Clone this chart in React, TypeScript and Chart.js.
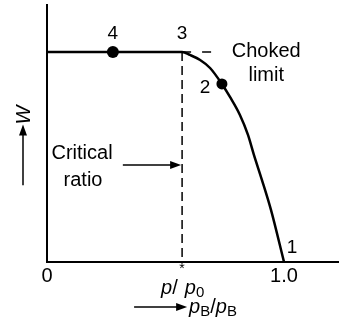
import { useEffect, useRef } from "react";
import { Chart, registerables } from "chart.js";

Chart.register(...registerables);

// Back-pressure ratio pB/p0 against mass flow rate W (normalised to the choked value)
const pressureRatio = [0, 0.57, 0.603, 0.646, 0.688, 0.738, 0.772, 0.814, 0.848, 0.873, 0.907, 0.945, 1.0];
const massFlow = [1, 1, 0.986, 0.962, 0.924, 0.848, 0.786, 0.7, 0.605, 0.51, 0.39, 0.248, 0];

const criticalRatio = 0.57;
const chokedFlow = 1;
const chokedGuideEnd = 0.698;

// Numbered states along the curve
const stateLabels = ["1", "2", "3", "4"];
const stateRatio = [1.0, 0.738, 0.57, 0.278];
const stateFlow = [0, 0.848, 1, 1];
const stateDotRadius = [0, 5.5, 0, 6];
const stateLabelDx = [8, -17, 0, 0];
const stateLabelDy = [-14, 4, -18, -18];

const xTickValues = [0, criticalRatio, 1.0];
const xTickLabels = ["0", "*", "1.0"];

const X_MAX = 1.232;
const Y_MAX = 1.224;
const FONT = '"Liberation Sans", Arial, Helvetica, sans-serif';

function arrowHead(ctx: CanvasRenderingContext2D, x: number, y: number, dir: "right" | "up") {
  ctx.beginPath();
  if (dir === "right") {
    ctx.moveTo(x, y);
    ctx.lineTo(x - 11, y - 4);
    ctx.lineTo(x - 11, y + 4);
  } else {
    ctx.moveTo(x, y);
    ctx.lineTo(x - 4, y + 11);
    ctx.lineTo(x + 4, y + 11);
  }
  ctx.closePath();
  ctx.fill();
}

type Part = { t: string; italic?: boolean; sub?: boolean; gap?: number };

// Draws text pieces left to right with optional italics / subscripts
function drawSubText(ctx: CanvasRenderingContext2D, parts: Part[], x: number, y: number) {
  let cx = x;
  for (const p of parts) {
    cx += p.gap || 0;
    const size = p.sub ? 15 : 20;
    ctx.font = `${p.italic ? "italic " : ""}${size}px ${FONT}`;
    ctx.fillText(p.t, cx, p.sub ? y + 5 : y);
    cx += ctx.measureText(p.t).width;
  }
  return cx;
}

const annotations = {
  id: "nozzleAnnotations",
  afterDraw(chart: any) {
    const { ctx } = chart;
    const xs = chart.scales.x;
    const ys = chart.scales.y;
    const bottom = chart.chartArea.bottom;
    ctx.save();
    ctx.fillStyle = "#000";
    ctx.strokeStyle = "#000";
    ctx.textAlign = "center";
    ctx.textBaseline = "middle";

    // state numbers
    ctx.font = `19px ${FONT}`;
    stateLabels.forEach((lab, i) => {
      const px = xs.getPixelForValue(stateRatio[i]) + stateLabelDx[i];
      const py = ys.getPixelForValue(stateFlow[i]) + stateLabelDy[i];
      ctx.fillText(lab, px, py);
    });

    // x tick labels
    xTickValues.forEach((v, i) => {
      const px = xs.getPixelForValue(v);
      if (xTickLabels[i] === "*") {
        ctx.font = `14px ${FONT}`;
        ctx.fillText("*", px, bottom + 7);
      } else {
        ctx.font = `20px ${FONT}`;
        ctx.fillText(xTickLabels[i], px, bottom + 14);
      }
    });

    // Choked limit
    ctx.font = `20px ${FONT}`;
    const chokedX = xs.getPixelForValue(0.925);
    ctx.fillText("Choked", chokedX, ys.getPixelForValue(chokedFlow) - 1);
    ctx.fillText("limit", chokedX, ys.getPixelForValue(chokedFlow) + 23);

    // Critical ratio with pointer
    const critX = xs.getPixelForValue(criticalRatio);
    ctx.fillText("Critical", xs.getPixelForValue(0.148), ys.getPixelForValue(0.515));
    ctx.fillText("ratio", xs.getPixelForValue(0.152), ys.getPixelForValue(0.39));
    const arrowY = ys.getPixelForValue(0.462);
    ctx.lineWidth = 1.5;
    ctx.beginPath();
    ctx.moveTo(xs.getPixelForValue(0.32), arrowY);
    ctx.lineTo(critX - 8, arrowY);
    ctx.stroke();
    arrowHead(ctx, critX - 1, arrowY, "right");

    // W axis label with upward arrow
    const wx = 24;
    ctx.save();
    ctx.translate(wx, ys.getPixelForValue(0.7));
    ctx.rotate(-Math.PI / 2);
    ctx.font = `italic 20px ${FONT}`;
    ctx.fillText("W", 0, 0);
    ctx.restore();
    ctx.beginPath();
    ctx.moveTo(wx - 1, ys.getPixelForValue(0.365));
    ctx.lineTo(wx - 1, ys.getPixelForValue(0.62));
    ctx.stroke();
    arrowHead(ctx, wx - 1, ys.getPixelForValue(0.655), "up");

    // p*/p0 label
    ctx.textAlign = "left";
    const p1: Part[] = [
      { t: "p", italic: true },
      { t: "/" },
      { t: "p", italic: true, gap: 7 },
      { t: "0", sub: true },
    ];
    drawSubText(ctx, p1, critX - 21, bottom + 26);

    // pB/pB label with arrow
    const p2: Part[] = [
      { t: "p", italic: true },
      { t: "B", sub: true },
      { t: "/" },
      { t: "p", italic: true },
      { t: "B", sub: true },
    ];
    const textStart = critX + 6;
    const ay = bottom + 45;
    ctx.beginPath();
    ctx.moveTo(textStart - 54, ay);
    ctx.lineTo(textStart - 8, ay);
    ctx.stroke();
    arrowHead(ctx, textStart - 1, ay, "right");
    drawSubText(ctx, p2, textStart + 1, ay);

    ctx.restore();
  },
};

export default function App() {
  const canvasRef = useRef<HTMLCanvasElement | null>(null);

  useEffect(() => {
    if (!canvasRef.current) return;
    const flowCurve = pressureRatio.map((x, i) => ({ x, y: massFlow[i] }));
    const chart = new Chart(canvasRef.current, {
      type: "line",
      data: {
        datasets: [
          {
            data: flowCurve,
            borderColor: "#000",
            borderWidth: 2.5,
            pointRadius: 0,
            cubicInterpolationMode: "monotone",
            fill: false,
          },
          {
            data: [
              { x: criticalRatio, y: chokedFlow },
              { x: criticalRatio, y: 0 },
            ],
            borderColor: "#000",
            borderWidth: 1.5,
            borderDash: [9, 5],
            pointRadius: 0,
          },
          {
            data: [
              { x: criticalRatio, y: chokedFlow },
              { x: chokedGuideEnd, y: chokedFlow },
            ],
            borderColor: "#000",
            borderWidth: 1.5,
            borderDash: [9, 11],
            pointRadius: 0,
          },
          {
            type: "scatter",
            data: stateRatio.map((x, i) => ({ x, y: stateFlow[i] })),
            pointRadius: stateDotRadius,
            pointBackgroundColor: "#000",
            pointBorderWidth: 0,
            showLine: false,
          } as any,
        ],
      },
      options: {
        animation: false,
        responsive: false,
        parsing: false as any,
        layout: { autoPadding: false, padding: { left: 47, top: 5, right: 0, bottom: 65 } },
        plugins: { legend: { display: false }, tooltip: { enabled: false } },
        scales: {
          x: {
            type: "linear",
            min: 0,
            max: X_MAX,
            grid: { display: false, drawTicks: false },
            border: { display: true, color: "#000", width: 2 },
            ticks: { display: false },
          },
          y: {
            type: "linear",
            min: 0,
            max: Y_MAX,
            grid: { display: false, drawTicks: false },
            border: { display: true, color: "#000", width: 2 },
            ticks: { display: false },
          },
        },
      },
      plugins: [annotations],
    });
    return () => chart.destroy();
  }, []);

  return (
    <div style={{ position: "absolute", left: 0, top: 0, width: 339, height: 327, background: "#fff" }}>
      <canvas ref={canvasRef} width={339} height={327} style={{ display: "block" }} />
    </div>
  );
}
